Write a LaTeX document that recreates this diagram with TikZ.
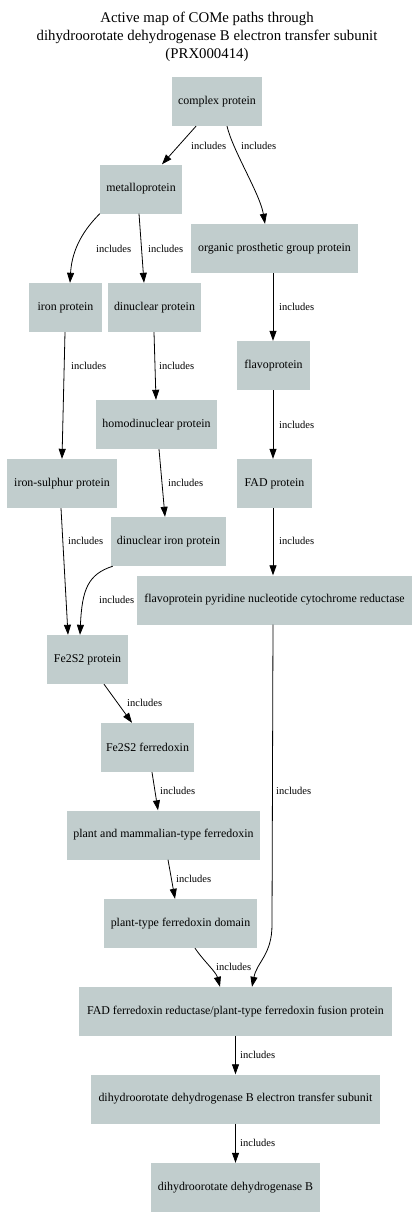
\documentclass[tikz,border=0pt]{standalone}
\usepackage{fontspec}
\setmainfont{Liberation Serif}
\usetikzlibrary{arrows.meta,calc}
\definecolor{nodefill}{RGB}{193,205,205}
\begin{document}
\begin{tikzpicture}[x=1pt,y=1pt,
  box/.style={draw=none, fill=nodefill, inner sep=0pt, minimum height=49pt, font=\fontsize{11.9}{14}\selectfont},
  edge/.style={line width=0.8pt, -{Triangle[length=10pt,width=7pt]}},
  lbl/.style={anchor=west, inner sep=0pt, font=\fontsize{10.5}{12}\selectfont},
  ttl/.style={anchor=base, inner sep=0pt, font=\fontsize{14.8}{17}\selectfont},
]
\useasboundingbox (0,0) rectangle (414,-1228);
\fill[white] (0,0) rectangle (414,-1228);

\node[ttl] (t1) at (207,-23) {Active map of COMe paths through};
\node[ttl] (t2) at (207,-41) {dihydroorotate dehydrogenase B electron transfer subunit};
\node[ttl] (t3) at (207,-58.5) {(PRX000414)};

\node[box, minimum width=90pt]  (cp)  at (217,-101.5) {complex protein};
\node[box, minimum width=82pt]  (mp)  at (141,-189) {metalloprotein};
\node[box, minimum width=167pt] (op)  at (274.5,-248.5) {organic prosthetic group protein};
\node[box, minimum width=73pt]  (ip)  at (65.5,-307.5) {iron protein};
\node[box, minimum width=93pt]  (dp)  at (154.5,-307.5) {dinuclear protein};
\node[box, minimum width=73pt]  (fp)  at (273.5,-365.5) {flavoprotein};
\node[box, minimum width=121pt] (hp)  at (156.5,-424.5) {homodinuclear protein};
\node[box, minimum width=110pt] (isp) at (62,-483.5) {iron-sulphur protein};
\node[box, minimum width=75pt]  (fad) at (274.5,-483.5) {FAD protein};
\node[box, minimum width=115pt] (dip) at (168.5,-541.5) {dinuclear iron protein};
\node[box, minimum width=275pt] (fpr) at (274.5,-600) {flavoprotein pyridine nucleotide cytochrome reductase};
\node[box, minimum width=81pt]  (fe)  at (87.5,-659.5) {Fe2S2 protein};
\node[box, minimum width=93pt]  (fef) at (147.5,-747.5) {Fe2S2 ferredoxin};
\node[box, minimum width=193pt] (pmf) at (163.5,-835) {plant and mammalian-type ferredoxin};
\node[box, minimum width=153pt] (ptf) at (180.5,-923.5) {plant-type ferredoxin domain};
\node[box, minimum width=313pt] (ffr) at (235.5,-1011.5) {FAD ferredoxin reductase/plant-type ferredoxin fusion protein};
\node[box, minimum width=289pt] (det) at (235.5,-1099) {dihydroorotate dehydrogenase B electron transfer subunit};
\node[box, minimum width=169pt] (db)  at (235.5,-1187.5) {dihydroorotate dehydrogenase B};

% edges
\draw[edge] ([xshift=-21pt]cp.south) -- ([xshift=21pt]mp.north);
\draw[edge] ([xshift=10pt]cp.south) .. controls ($([xshift=10pt]cp.south)+(6,-25)$) and ($([xshift=-9.5pt]op.north)+(-5,30)$) .. ([xshift=-9.5pt]op.north);
\draw[edge] (mp.south west) .. controls ($(mp.south west)+(-15,-15)$) and ($([xshift=4.5pt]ip.north)+(2,35)$) .. ([xshift=4.5pt]ip.north);
\draw[edge] ([xshift=-2pt]mp.south) -- ([xshift=-10.5pt]dp.north);
\draw[edge] ([xshift=-1.5pt]op.south) -- ([xshift=-0.5pt]fp.north);
\draw[edge] ([xshift=-0.5pt]ip.south) -- (isp.north);
\draw[edge] ([xshift=-0.5pt]dp.south) -- ([xshift=-0.5pt]hp.north);
\draw[edge] ([xshift=-0.5pt]fp.south) -- ([xshift=-1.5pt]fad.north);
\draw[edge] ([xshift=2.5pt]hp.south) -- ([xshift=-3.5pt]dip.north);
\draw[edge] ([xshift=-1pt]isp.south) -- ([xshift=-19.5pt]fe.north);
\draw[edge] ([xshift=-1.5pt]fad.south) -- ([xshift=-1.5pt]fpr.north);
\draw[edge] ([xshift=2pt]dip.south west) .. controls ($([xshift=2pt]dip.south west)+(-25,-8)$) and ($([xshift=-7.5pt]fe.north)+(2,45)$) .. ([xshift=-7.5pt]fe.north);
\draw[edge] ([xshift=16.5pt]fe.south) -- ([xshift=-15.5pt]fef.north);
\draw[edge] ([xshift=4.5pt]fef.south) -- ([xshift=-5.5pt]pmf.north);
\draw[edge] ([xshift=4.5pt]pmf.south) -- ([xshift=-5.5pt]ptf.north);
\draw[edge] ([xshift=-1.5pt]fpr.south) -- ($([xshift=-2.5pt]fpr.south)+(0,-300)$) .. controls ($([xshift=-2.5pt]fpr.south)+(0,-330)$) and ($([xshift=16.5pt]ffr.north)+(5,25)$) .. ([xshift=16.5pt]ffr.north);
\draw[edge] ([xshift=14.5pt]ptf.south) .. controls ($([xshift=14.5pt]ptf.south)+(8,-12)$) and ($([xshift=-15.5pt]ffr.north)+(-4,15)$) .. ([xshift=-15.5pt]ffr.north);
\draw[edge] (ffr.south) -- (det.north);
\draw[edge] (det.south) -- (db.north);

% labels
\node[lbl] (l1)  at (191,-146) {includes};
\node[lbl] (l2)  at (241,-146) {includes};
\node[lbl] (l3)  at (96,-249) {includes};
\node[lbl] (l4)  at (148,-249) {includes};
\node[lbl] (l5)  at (279,-307) {includes};
\node[lbl] (l6)  at (71,-366) {includes};
\node[lbl] (l7)  at (159,-366) {includes};
\node[lbl] (l8)  at (279,-425) {includes};
\node[lbl] (l9)  at (168,-483) {includes};
\node[lbl] (l10) at (68,-541) {includes};
\node[lbl] (l11) at (279,-541) {includes};
\node[lbl] (l12) at (99,-600) {includes};
\node[lbl] (l13) at (127,-703) {includes};
\node[lbl] (l14) at (160,-791) {includes};
\node[lbl] (l15) at (176,-879) {includes};
\node[lbl] (l16) at (276,-791) {includes};
\node[lbl] (l17) at (216,-967) {includes};
\node[lbl] (l18) at (240,-1055) {includes};
\node[lbl] (l19) at (240,-1143) {includes};
\end{tikzpicture}
\end{document}
